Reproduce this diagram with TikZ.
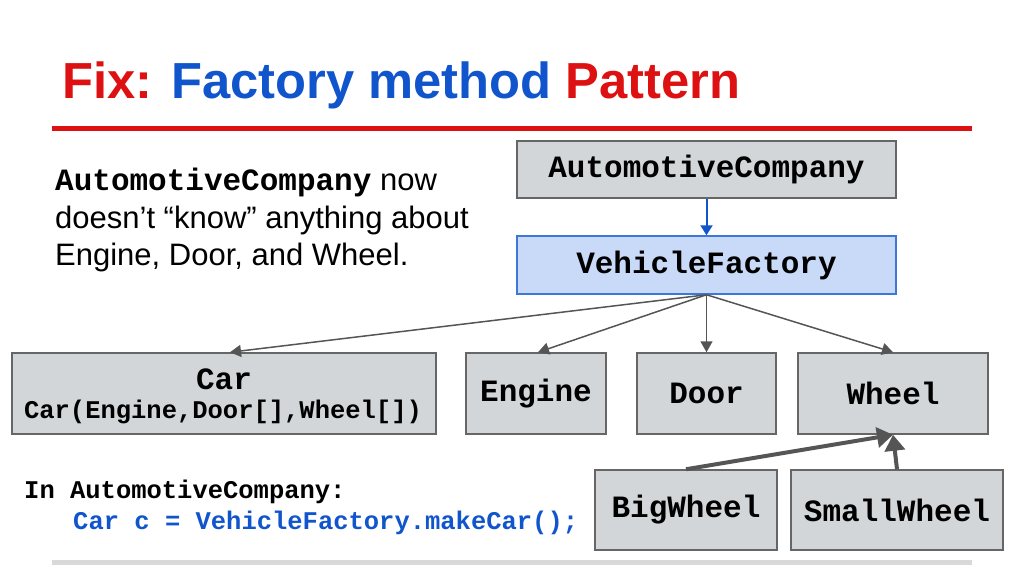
\documentclass[tikz,border=0pt]{standalone}
\usepackage{fontspec}
\setmainfont{Liberation Sans}
\setmonofont{Liberation Mono}
\usetikzlibrary{arrows.meta}
\definecolor{tred}{RGB}{221,17,17}
\definecolor{tblue}{RGB}{17,85,204}
\definecolor{boxgray}{RGB}{210,214,216}
\definecolor{boxedge}{RGB}{102,102,102}
\definecolor{lblue}{RGB}{201,218,248}
\definecolor{bedge}{RGB}{60,120,216}
\definecolor{arrgray}{RGB}{85,85,85}
\definecolor{rulegray}{RGB}{217,217,217}
\tikzset{
  gbox/.style={draw=boxedge, line width=1.5pt, fill=boxgray, inner sep=0pt, font=\fontsize{31}{35}\selectfont\ttfamily\bfseries},
  bbox/.style={draw=bedge, line width=1.5pt, fill=lblue, inner sep=0pt, font=\fontsize{31}{35}\selectfont\ttfamily\bfseries},
  thinarr/.style={draw=arrgray, line width=1.5pt, -{Triangle[length=11pt,width=12pt]}},
  thickarr/.style={draw=arrgray, line width=4pt, -{Triangle[length=16pt,width=20pt]}},
  body/.style={font=\fontsize{31}{36}\selectfont, inner sep=0pt},
  code/.style={font=\fontsize{25.5}{30}\selectfont\ttfamily\bfseries, inner sep=0pt}
}
\begin{document}
\begin{tikzpicture}[x=1pt,y=-1pt]
\useasboundingbox (0,0) rectangle (1024,576);
% title
\node[anchor=base west, inner sep=0pt, font=\fontsize{50.7}{60}\selectfont\bfseries] (title) at (62,98)
  {\textcolor{tred}{Fix:} \textcolor{tblue}{Factory method} \textcolor{tred}{Pattern}};
\draw[tred, line width=5pt] (52,128) -- (972,128);
\draw[rulegray, line width=5pt] (52,562) -- (972,562);
% left text
\node[body, anchor=base west] (t1) at (55,190) {{\ttfamily\bfseries AutomotiveCompany} now};
\node[body, anchor=base west] (t2) at (55,228) {doesn’t “know” anything about};
\node[body, anchor=base west] (t3) at (55,265) {Engine, Door, and Wheel.};
% boxes
\node[gbox, minimum width=379pt, minimum height=57pt] (ac) at (706.5,169.5) {AutomotiveCompany};
\node[bbox, minimum width=379pt, minimum height=58pt] (vf) at (706.5,265) {VehicleFactory};
\node[gbox, minimum width=424pt, minimum height=81pt] (car) at (224,393.5) {};
\node[gbox, draw=none, fill=none] (carT) at (224,379) {Car};
\node[gbox, draw=none, fill=none, font=\fontsize{25.5}{30}\selectfont\ttfamily\bfseries] (carS) at (223,412) {Car(Engine,Door[],Wheel[])};
\node[gbox, minimum width=140pt, minimum height=81pt] (eng) at (536,393.5) {Engine};
\node[gbox, minimum width=139pt, minimum height=81pt] (door) at (706.5,393.5) {Door};
\node[gbox, minimum width=190pt, minimum height=81pt] (wheel) at (893,393.5) {Wheel};
\node[gbox, minimum width=182pt, minimum height=80pt] (big) at (686,510) {BigWheel};
\node[gbox, minimum width=212pt, minimum height=80pt] (small) at (897,510) {SmallWheel};
% arrows
\draw[tblue, line width=2pt, -{Triangle[length=10pt,width=12pt]}] (ac.south) -- (vf.north);
\draw[thinarr] (vf.south) -- ([xshift=6pt]car.north);
\draw[thinarr] (vf.south) -- ([xshift=2pt]eng.north);
\draw[thinarr] (vf.south) -- (door.north);
\draw[thinarr] (vf.south) -- (wheel.north);
\draw[thickarr] (big.north) -- (wheel.south);
\draw[thickarr] (small.north) -- (wheel.south);
% code text
\node[code, anchor=base west] (c1) at (24,498) {In AutomotiveCompany:};
\node[code, anchor=base west, text=tblue] (c2) at (73,529) {Car c = VehicleFactory.makeCar();};
\end{tikzpicture}
\end{document}
